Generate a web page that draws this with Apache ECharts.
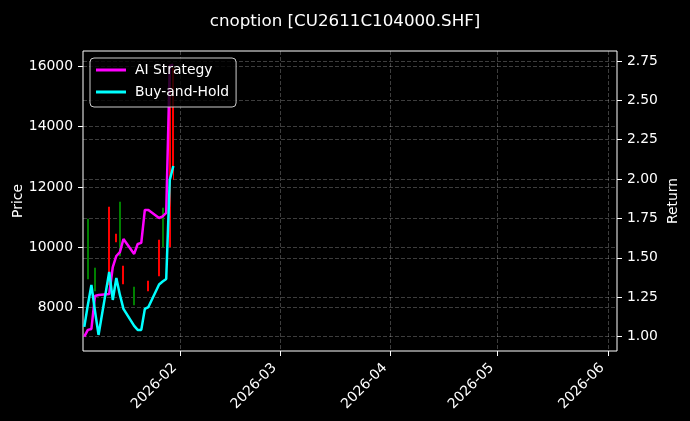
<!DOCTYPE html>
<html>
<head>
<meta charset="utf-8">
<script src="https://cdn.jsdelivr.net/npm/echarts@6/dist/echarts.min.js"></script>
<style>
  html, body { margin: 0; padding: 0; background: #000; }
  #chart { width: 690px; height: 421px; }
</style>
</head>
<body>
<div id="chart"></div>
<script>
// trading days shown on the chart
const dates = [
  '2026-01-05', '2026-01-06', '2026-01-07', '2026-01-08', '2026-01-09',
  '2026-01-12', '2026-01-13', '2026-01-14', '2026-01-15', '2026-01-16',
  '2026-01-19', '2026-01-20', '2026-01-21', '2026-01-22', '2026-01-23',
  '2026-01-26', '2026-01-27', '2026-01-28', '2026-01-29', '2026-01-30'
];
const aiStrategy = [
  1.00, 1.043, 1.049, 1.258, 1.264,
  1.271, 1.442, 1.512, 1.537, 1.620,
  1.525, 1.588, 1.595, 1.804, 1.804,
  1.753, 1.763, 1.785, 2.718, 2.727
];
const buyHold = [
  1.062, 1.201, 1.328, 1.163, 1.011,
  1.411, 1.233, 1.372, 1.265, 1.176,
  1.068, 1.043, 1.043, 1.176, 1.188,
  1.331, 1.350, 1.366, 1.994, 2.083
];

// candles (only the days with a visible bar)
const candleDates = [
  '2026-01-06', '2026-01-08', '2026-01-12', '2026-01-14', '2026-01-15', '2026-01-16',
  '2026-01-19', '2026-01-23', '2026-01-26', '2026-01-27', '2026-01-29', '2026-01-30'
];
const openPrice  = [8950, 8553, 11334, 10440, 9712, 9381, 8089, 8884, 10242, 10010, 16000, 15937];
const closePrice = [10937, 9315, 8752, 10176, 11500, 8785, 8685, 8553, 9050, 11301, 10010, 12560];
const lowPrice   = [8950, 8553, 8752, 10176, 9712, 8785, 8089, 8553, 9050, 10010, 10010, 12228];
const highPrice  = [10937, 9315, 11334, 10440, 11500, 9381, 8685, 8884, 10242, 11301, 16048, 15937];

const priceTicks = [8000, 10000, 12000, 14000, 16000];
const returnTicks = [1.00, 1.25, 1.50, 1.75, 2.00, 2.25, 2.50, 2.75];
const monthTicks = ['2026-02-01', '2026-03-01', '2026-04-01', '2026-05-01', '2026-06-01'];

function toTime(s) {
  const p = s.split('-').map(Number);
  return new Date(p[0], p[1] - 1, p[2]).getTime();
}
const DAY = 24 * 3600 * 1000;

const chart = echarts.init(document.getElementById('chart'));

const fontFamily = 'DejaVu Sans';
const fs = 13.9;
const gridLine = { show: true, lineStyle: { color: 'rgba(255,255,255,0.3)', width: 0.8, type: [4, 2] } };

const option = {
  backgroundColor: '#000',
  animation: false,
  textStyle: { fontFamily: fontFamily },
  title: {
    text: 'cnoption [CU2611C104000.SHF]',
    left: 'center',
    top: 8,
    textStyle: { color: '#fff', fontSize: 16.7, fontWeight: 'normal', fontFamily: fontFamily }
  },
  legend: {
    data: ['AI Strategy', 'Buy-and-Hold'],
    orient: 'vertical',
    left: 90,
    top: 58,
    icon: 'rect',
    itemWidth: 30,
    itemHeight: 3,
    itemGap: 8,
    padding: [5, 7, 8, 6],
    backgroundColor: 'rgba(0,0,0,0.8)',
    borderColor: '#ccc',
    borderWidth: 1,
    borderRadius: 4,
    textStyle: { color: '#fff', fontSize: fs, fontFamily: fontFamily, padding: [0, 0, 0, 4] }
  },
  grid: {
    left: 83, right: 73, top: 51, bottom: 70,
    show: true, borderColor: '#fff', borderWidth: 1,
    outerBoundsMode: 'none'
  },
  xAxis: {
    type: 'value',
    min: toTime('2026-01-05') - 0.36 * DAY,
    max: toTime('2026-06-03') + 0.56 * DAY,
    axisLine: { show: false },
    axisTick: { show: true, length: 5, lineStyle: { color: '#fff' }, customValues: monthTicks.map(toTime) },
    axisLabel: {
      color: '#fff', fontSize: fs, rotate: 45, margin: 9, padding: [0, 8, 0, 0],
      customValues: monthTicks.map(toTime),
      formatter: function (v) {
        const d = new Date(v);
        return d.getFullYear() + '-' + String(d.getMonth() + 1).padStart(2, '0');
      }
    },
    splitLine: gridLine
  },
  yAxis: [{
    type: 'value',
    name: 'Price',
    nameLocation: 'middle',
    nameGap: 58,
    nameRotate: 90,
    nameMoveOverlap: false,
    nameTextStyle: { color: '#fff', fontSize: fs },
    min: 6566,
    max: 16500,
    axisLine: { show: false },
    axisTick: { show: true, length: 5, lineStyle: { color: '#fff' }, customValues: priceTicks },
    axisLabel: {
      color: '#fff', fontSize: fs, margin: 10, customValues: priceTicks,
      formatter: function (v) { return String(v); }
    },
    splitLine: gridLine
  }, {
    type: 'value',
    name: 'Return',
    nameLocation: 'middle',
    nameGap: 49,
    nameRotate: 90,
    nameMoveOverlap: false,
    nameTextStyle: { color: '#fff', fontSize: fs },
    position: 'right',
    min: 0.909,
    max: 2.813,
    axisLine: { show: false },
    axisTick: { show: true, length: 5, lineStyle: { color: '#fff' }, customValues: returnTicks },
    axisLabel: {
      color: '#fff', fontSize: fs, margin: 10, customValues: returnTicks,
      formatter: function (v) { return v.toFixed(2); }
    },
    splitLine: gridLine
  }],
  series: [{
    name: 'Price',
    type: 'candlestick',
    barWidth: 1.5,
    z: 2,
    itemStyle: {
      color: '#008000', color0: '#ff0000',
      borderColor: '#008000', borderColor0: '#ff0000', borderWidth: 1
    },
    data: candleDates.map((d, i) => [toTime(d), openPrice[i], closePrice[i], lowPrice[i], highPrice[i]])
  }, {
    name: 'AI Strategy',
    type: 'line',
    yAxisIndex: 1,
    z: 3,
    showSymbol: false,
    symbol: 'none',
    itemStyle: { color: '#ff00ff' },
    lineStyle: { color: '#ff00ff', width: 2.5 },
    data: dates.map((d, i) => [toTime(d), aiStrategy[i]])
  }, {
    name: 'Buy-and-Hold',
    type: 'line',
    yAxisIndex: 1,
    z: 4,
    showSymbol: false,
    symbol: 'none',
    itemStyle: { color: '#00ffff' },
    lineStyle: { color: '#00ffff', width: 2.5 },
    data: dates.map((d, i) => [toTime(d), buyHold[i]])
  }]
};

chart.setOption(option);
</script>
</body>
</html>
